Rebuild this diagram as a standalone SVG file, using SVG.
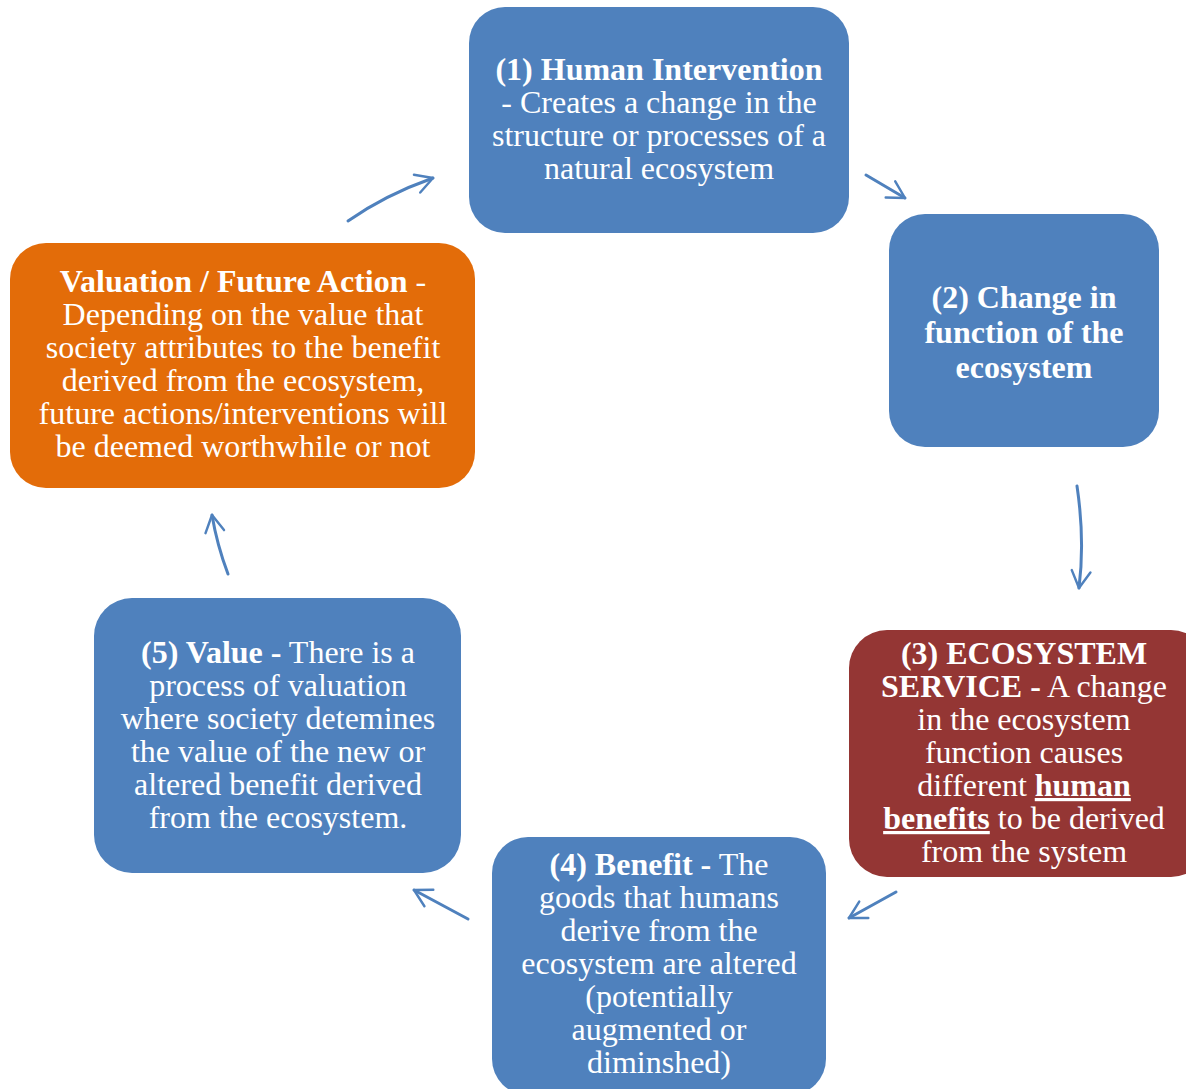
<svg xmlns="http://www.w3.org/2000/svg" width="1186" height="1089" viewBox="0 0 1186 1089">
<defs>
<marker id="ah" viewBox="0 0 12 12" refX="10" refY="6" markerWidth="7.5" markerHeight="7.5" markerUnits="strokeWidth" orient="auto">
<path d="M1,1 L10,6 L1,11" fill="none" stroke="#4F81BD" stroke-width="1.3" stroke-linecap="round" stroke-linejoin="round"/>
</marker>
</defs>
<style>
.blue{fill:#4F81BD}
.red{fill:#943634}
.orange{fill:#E36C09}
text{font-family:"Liberation Serif","Times New Roman",serif;font-size:32px;fill:#FFFFFF;text-anchor:middle}
.b{font-weight:bold}
.u{text-decoration:underline}
.c{fill:none;stroke:#4F81BD;stroke-width:3;stroke-linecap:round;marker-end:url(#ah)}
</style>
<rect width="1186" height="1089" fill="#FFFFFF"/>
<g id="n1">
<rect class="blue" x="469" y="7" width="380" height="226" rx="36"/>
<text x="659" y="80"><tspan class="b">(1) Human Intervention</tspan></text>
<text x="659" y="113">- Creates a change in the</text>
<text x="659" y="146">structure or processes of a</text>
<text x="659" y="179">natural ecosystem</text>
</g>
<g id="n2">
<rect class="blue" x="889" y="214" width="270" height="233" rx="36"/>
<text class="b" x="1024" y="308">(2) Change in</text>
<text class="b" x="1024" y="343">function of the</text>
<text class="b" x="1024" y="378">ecosystem</text>
</g>
<g id="n3">
<rect class="red" x="849" y="630" width="360" height="247" rx="38"/>
<text class="b" x="1024" y="664">(3) ECOSYSTEM</text>
<text x="1024" y="697"><tspan class="b">SERVICE -</tspan> A change</text>
<text x="1024" y="730">in the ecosystem</text>
<text x="1024" y="763">function causes</text>
<text x="1024" y="796">different <tspan class="b u">human</tspan></text>
<text x="1024" y="829"><tspan class="b u">benefits</tspan> to be derived</text>
<text x="1024" y="862">from the system</text>
</g>
<g id="n4">
<rect class="blue" x="492" y="837" width="334" height="258" rx="36"/>
<text x="659" y="875"><tspan class="b">(4) Benefit -</tspan> The</text>
<text x="659" y="908">goods that humans</text>
<text x="659" y="941">derive from the</text>
<text x="659" y="974">ecosystem are altered</text>
<text x="659" y="1007">(potentially</text>
<text x="659" y="1040">augmented or</text>
<text x="659" y="1073">diminshed)</text>
</g>
<g id="n5">
<rect class="blue" x="94" y="598" width="367" height="275" rx="38"/>
<text x="278" y="663"><tspan class="b">(5) Value -</tspan> There is a</text>
<text x="278" y="696">process of valuation</text>
<text x="278" y="729">where society detemines</text>
<text x="278" y="762">the value of the new or</text>
<text x="278" y="795">altered benefit derived</text>
<text x="278" y="828">from the ecosystem.</text>
</g>
<g id="n6">
<rect class="orange" x="10" y="243" width="465" height="245" rx="36"/>
<text x="243" y="292"><tspan class="b">Valuation / Future Action</tspan> -</text>
<text x="243" y="325">Depending on the value that</text>
<text x="243" y="358">society attributes to the benefit</text>
<text x="243" y="391">derived from the ecosystem,</text>
<text x="243" y="424">future actions/interventions will</text>
<text x="243" y="457">be deemed worthwhile or not</text>
</g>
<g id="connectors">
<path class="c" d="M348,221 Q385,195 433,178"/>
<path class="c" d="M866,175 L905,198"/>
<path class="c" d="M1077,486 Q1085,540 1079,588"/>
<path class="c" d="M896,892 L849,918"/>
<path class="c" d="M468,919 L414,890"/>
<path class="c" d="M228,574 Q217,545 212,515"/>
</g>
</svg>
